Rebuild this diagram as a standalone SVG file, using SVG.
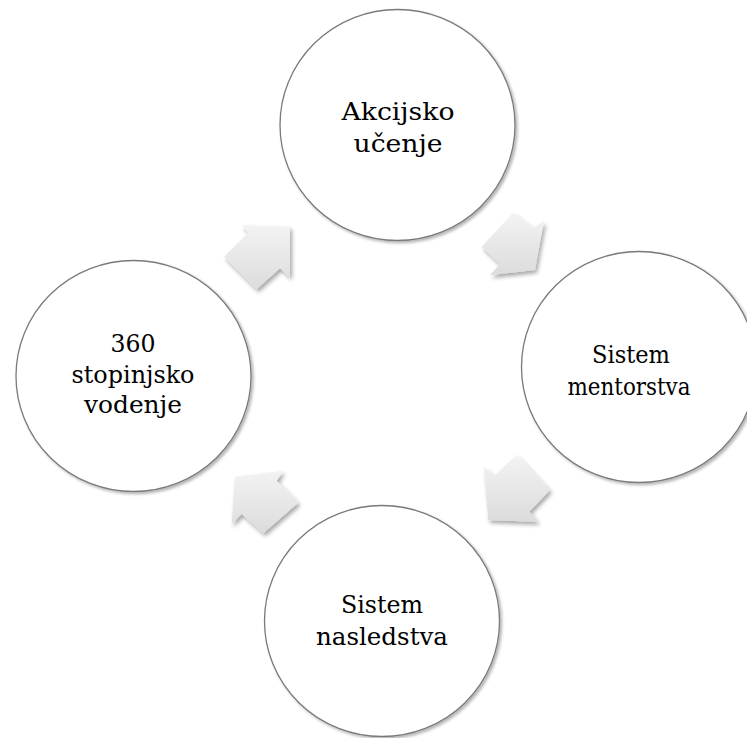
<svg xmlns="http://www.w3.org/2000/svg" width="747" height="738" viewBox="0 0 747 738">
  <style>
    .node { fill: #ffffff; stroke: #7a7a7a; stroke-width: 1.3; filter: url(#nodeShadow); }
    .label { font-family: 'DejaVu Serif', serif; font-size: 25px; fill: #000000; text-anchor: middle; }
    .arrow { fill: url(#arrowFill); filter: url(#arrowShadow); }
  </style>
  <defs>
    <linearGradient id="arrowFill" x1="0" y1="0" x2="0" y2="1">
      <stop offset="0" stop-color="#f3f3f3"/>
      <stop offset="1" stop-color="#dcdcdc"/>
    </linearGradient>
    <filter id="arrowShadow" x="-30%" y="-30%" width="160%" height="160%">
      <feGaussianBlur in="SourceAlpha" stdDeviation="2"/>
      <feOffset dx="1.5" dy="3" result="off"/>
      <feComponentTransfer><feFuncA type="linear" slope="0.35"/></feComponentTransfer>
      <feMerge><feMergeNode/><feMergeNode in="SourceGraphic"/></feMerge>
    </filter>
    <filter id="nodeShadow" x="-10%" y="-10%" width="120%" height="120%">
      <feGaussianBlur in="SourceAlpha" stdDeviation="1.5"/>
      <feOffset dx="1.5" dy="2" result="off"/>
      <feComponentTransfer><feFuncA type="linear" slope="0.3"/></feComponentTransfer>
      <feMerge><feMergeNode/><feMergeNode in="SourceGraphic"/></feMerge>
    </filter>
  </defs>

  <rect x="0" y="0" width="747" height="738" fill="#ffffff"/>

  <!-- cycle arrows between the stages -->
  <g id="connectors">
    <polygon class="arrow" points="513.3,212.7 481.7,246.7 500,264 490,275 535,270 544,220.7 533.3,228.3"/>
    <polygon class="arrow" points="484,466.7 494,476 516.7,455 550,490 529.3,511.7 538.3,521.7 488.3,520"/>
    <polygon class="arrow" points="235,476.7 283.3,470.7 276.7,480.7 298.3,502.7 263.3,533.3 241.7,514 231.7,524"/>
    <polygon class="arrow" points="241.7,225 248.3,232.7 224,256.7 256.7,289.3 280,268.3 290,277.3 290,226.7"/>
  </g>

  <g id="node-akcijsko">
    <ellipse class="node" cx="397.5" cy="125" rx="117.5" ry="115.5"/>
    <text class="label" x="398" y="120" textLength="113" lengthAdjust="spacingAndGlyphs">Akcijsko</text>
    <text class="label" x="398" y="152" textLength="89" lengthAdjust="spacingAndGlyphs">učenje</text>
  </g>

  <g id="node-mentorstvo">
    <ellipse class="node" cx="639" cy="367" rx="117.5" ry="115.5"/>
    <text class="label" x="631" y="363" textLength="78" lengthAdjust="spacingAndGlyphs">Sistem</text>
    <text class="label" x="629" y="395" textLength="123" lengthAdjust="spacingAndGlyphs">mentorstva</text>
  </g>

  <g id="node-nasledstvo">
    <ellipse class="node" cx="382" cy="621" rx="117.5" ry="115.5"/>
    <text class="label" x="382" y="613" textLength="82" lengthAdjust="spacingAndGlyphs">Sistem</text>
    <text class="label" x="382" y="645" textLength="132" lengthAdjust="spacingAndGlyphs">nasledstva</text>
  </g>

  <g id="node-360">
    <ellipse class="node" cx="133.5" cy="376" rx="117.5" ry="115.5"/>
    <text class="label" x="133" y="352" textLength="45" lengthAdjust="spacingAndGlyphs">360</text>
    <text class="label" x="133" y="383" textLength="123" lengthAdjust="spacingAndGlyphs">stopinjsko</text>
    <text class="label" x="133" y="413" textLength="98" lengthAdjust="spacingAndGlyphs">vodenje</text>
  </g>
</svg>
